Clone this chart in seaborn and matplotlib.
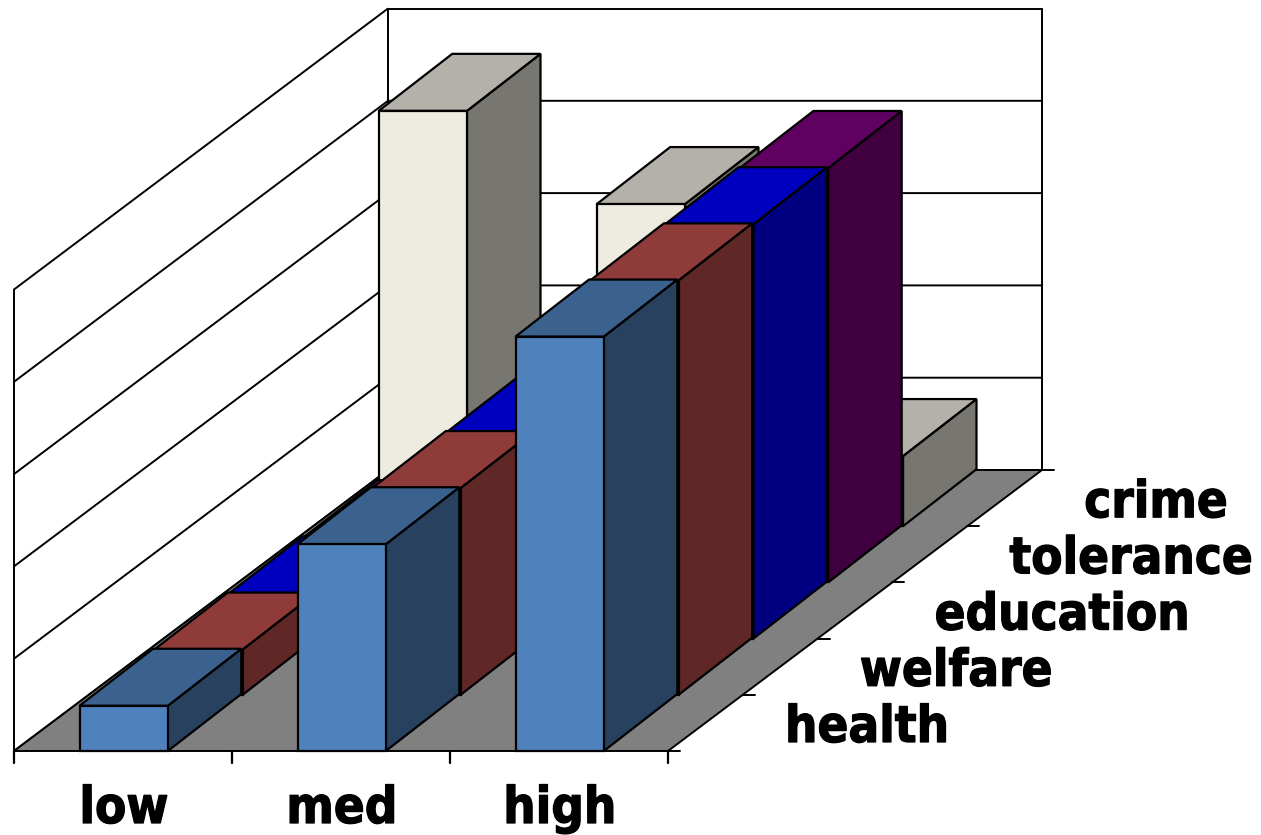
import matplotlib
matplotlib.use("Agg")
import matplotlib.pyplot as plt
import matplotlib.patheffects as pe
import numpy as np
import pandas as pd
import seaborn as sns

# Survey scores by issue (back row last) and level
levels = ["low", "med", "high"]
issues = ["health", "welfare", "education", "tolerance", "crime"]
health = [0.49, 2.24, 4.49]
welfare = [0.49, 2.24, 4.49]
education = [0.49, 2.24, 4.49]
tolerance = [0.49, 2.24, 4.49]
crime = [4.50, 3.49, 0.76]
axis_max = 5

base_colors = ["#4F81BD", "#BE4F4D", "#0000FF", "#800080", "#EEECE1"]

scores = pd.DataFrame(
    {"health": health, "welfare": welfare, "education": education,
     "tolerance": tolerance, "crime": crime},
    index=levels,
)

sns.set_theme(style="white", rc={"font.family": ["DejaVu Sans"]})

# Oblique projection of (level, depth, value) onto the canvas
ORIGIN = np.array([14.0, 751.0])
LEVEL_STEP = 218.0
DEPTH_STEP = np.array([74.8, -56.2])
UNIT_HEIGHT = 92.3
BAR_WIDTH = 0.405
BAR_RUN = np.array([73.5, -57.0])


def project(level, depth, value=0.0):
    x = ORIGIN[0] + level * LEVEL_STEP + depth * DEPTH_STEP[0]
    y = ORIGIN[1] + depth * DEPTH_STEP[1] - value * UNIT_HEIGHT
    return x, y


def recede(point):
    return point[0] + BAR_RUN[0], point[1] + BAR_RUN[1]


fig = plt.figure(figsize=(12.61, 8.35), dpi=100)
ax = fig.add_axes([0, 0, 1, 1])
ax.set_xlim(0, 1261)
ax.set_ylim(835, 0)
ax.axis("off")

EDGE = "black"
LW_BAR = 1.6
LW_GRID = 1.4
n_levels = len(levels)
n_issues = len(issues)


def face(points, color, lw=LW_BAR, z=None):
    xs, ys = zip(*points)
    ax.fill(xs, ys, facecolor=color, edgecolor=EDGE, linewidth=lw,
            joinstyle="miter", zorder=z)


def shade(color, factor):
    return tuple(channel * factor for channel in matplotlib.colors.to_rgb(color))


# Back wall and side wall
face([project(0, n_issues), project(n_levels, n_issues),
      project(n_levels, n_issues, axis_max), project(0, n_issues, axis_max)], "white", LW_GRID, 1)
face([project(0, 0), project(0, n_issues),
      project(0, n_issues, axis_max), project(0, 0, axis_max)], "white", LW_GRID, 1)

# Gridlines run along the side wall and across the back wall
for value in range(1, axis_max):
    line = [project(0, 0, value), project(0, n_issues, value), project(n_levels, n_issues, value)]
    ax.plot(*zip(*line), color=EDGE, lw=LW_GRID, zorder=1.5)

# Floor
face([project(0, 0), project(n_levels, 0), project(n_levels, n_issues), project(0, n_issues)],
     "#808080", LW_GRID, 2)

# Ticks along the front edge and the right-hand depth edge
for i in range(n_levels + 1):
    x, y = project(i, 0)
    ax.plot([x, x], [y, y + 12], color=EDGE, lw=LW_BAR, zorder=2)
for k in range(n_issues + 1):
    x, y = project(n_levels, k)
    ax.plot([x, x + 12], [y, y], color=EDGE, lw=LW_GRID, zorder=2)

# Bars, painted from the back row forward
z = 3.0
for k in reversed(range(n_issues)):
    color = base_colors[k]
    for i, level in enumerate(levels):
        value = scores.loc[level, issues[k]]
        left = i + 0.5 - BAR_WIDTH / 2 + 0.003
        right = left + BAR_WIDTH
        fl_base = project(left, k)
        fr_base = project(right, k)
        fl_top = project(left, k, value)
        fr_top = project(right, k, value)
        face([fr_base, recede(fr_base), recede(fr_top), fr_top], shade(color, 0.5), z=z)
        face([fl_top, fr_top, recede(fr_top), recede(fl_top)], shade(color, 0.75), z=z)
        face([fl_base, fr_base, fr_top, fl_top], color, z=z)
        z += 0.01

# Category labels under the floor and depth labels to its right
heavier = [pe.withStroke(linewidth=0.9, foreground="black")]
label_style = dict(fontsize=36.5, fontweight="bold", fontstretch="condensed",
                   color="black", zorder=20, path_effects=heavier)
for i, level in enumerate(levels):
    x, y = project(i + 0.5, 0)
    ax.text(x + 1, y + 72, level, ha="center", va="baseline", **label_style)
for k, issue in enumerate(issues):
    x, y = project(n_levels, k)
    ax.text(x + 117, y - 9, issue, ha="left", va="baseline", **label_style)

fig.savefig("out.png", dpi=100)
